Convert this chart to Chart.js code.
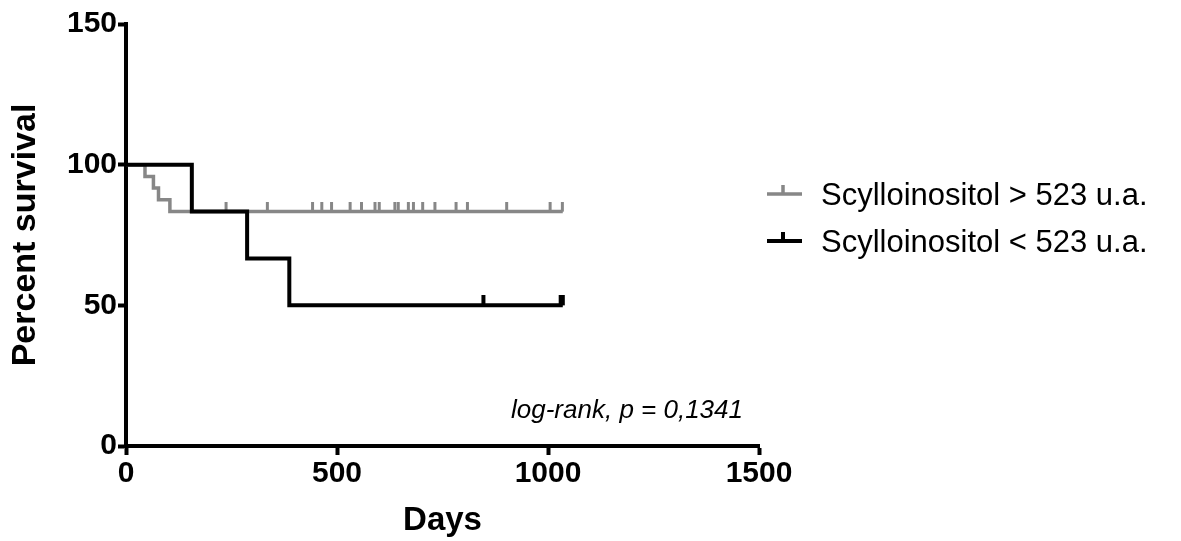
<!DOCTYPE html>
<html>
<head>
<meta charset="utf-8">
<script src="https://cdn.jsdelivr.net/npm/chart.js@4"></script>
<style>
  html, body { margin: 0; padding: 0; background: #fff; }
  #wrap { width: 1181px; height: 541px; }
</style>
</head>
<body>
<div id="wrap"><canvas id="survChart"></canvas></div>
<script>
// Kaplan-Meier data
const highDays = [0, 45, 65, 77, 104, 1035];
const highSurvival = [100, 95.83, 91.67, 87.5, 83.33, 83.33];
const highCensored = [237, 335, 442, 464, 487, 531, 558, 590, 600, 637, 645, 669, 681, 703, 732, 782, 809, 902, 1005, 1034];
const lowDays = [0, 156, 287, 387, 1035];
const lowSurvival = [100, 83.33, 66.67, 50, 50];
const lowCensored = [847, 1030, 1035];
const highLabel = 'Scylloinositol > 523 u.a.';
const lowLabel = 'Scylloinositol < 523 u.a.';
const xTicks = [0, 500, 1000, 1500];
const yTicks = [0, 50, 100, 150];
const pValueText = 'log-rank, p = 0,1341';

const GRAY = '#878787';
const BLACK = '#000000';
const FONT = "'Liberation Sans', Arial, sans-serif";

Chart.defaults.font.family = FONT;
Chart.defaults.color = '#000';

// level of the curve at day t (last step at or before t)
function levelAt(days, surv, t) {
    let v = surv[0];
    for (let i = 0; i < days.length; i++) {
        if (days[i] <= t) v = surv[i];
    }
    return v;
}

// small vertical tick, drawn only above the point
function tickMark(color, w) {
    const c = document.createElement('canvas');
    c.width = w + 2;
    c.height = 20;
    const g = c.getContext('2d');
    g.fillStyle = color;
    g.fillRect(1, 0, w, 10);
    return c;
}

const legendPlugin = {
    id: 'kmLegend',
    afterDraw(chart) {
        const ctx = chart.ctx;
        const area = chart.chartArea;
        const rows = [
            { label: highLabel, color: GRAY, w: 3.5, base: 205 },
            { label: lowLabel, color: BLACK, w: 4, base: 252 }
        ];
        ctx.save();
        rows.forEach(r => {
            const ly = r.base - 11;
            ctx.strokeStyle = r.color;
            ctx.lineWidth = r.w;
            ctx.beginPath();
            ctx.moveTo(area.right + 8, ly);
            ctx.lineTo(area.right + 43, ly);
            ctx.moveTo(area.right + 24, ly);
            ctx.lineTo(area.right + 24, ly - 9);
            ctx.stroke();
            ctx.fillStyle = '#000';
            ctx.font = '31px ' + FONT;
            ctx.textAlign = 'left';
            ctx.textBaseline = 'alphabetic';
            ctx.fillText(r.label, area.right + 62, r.base);
        });
        ctx.font = 'italic 26px ' + FONT;
        ctx.textAlign = 'right';
        ctx.fillText(pValueText, area.right - 16, 418);
        ctx.restore();
    }
};

const ctx = document.getElementById('survChart').getContext('2d');
const chart = new Chart(ctx, {
    type: 'line',
    data: {
        datasets: [
            {
                label: lowLabel,
                data: lowDays.map((d, i) => ({ x: d, y: lowSurvival[i] })),
                borderColor: BLACK,
                borderWidth: 4,
                stepped: 'before',
                pointRadius: 0,
                fill: false
            },
            {
                label: lowLabel + ' censored',
                type: 'scatter',
                data: lowCensored.map(d => ({ x: d, y: levelAt(lowDays, lowSurvival, d) })),
                pointStyle: tickMark(BLACK, 4),
                pointRadius: 5,
                showLine: false
            },
            {
                label: highLabel,
                data: highDays.map((d, i) => ({ x: d, y: highSurvival[i] })),
                borderColor: GRAY,
                borderWidth: 3.5,
                stepped: 'before',
                pointRadius: 0,
                fill: false
            },
            {
                label: highLabel + ' censored',
                type: 'scatter',
                data: highCensored.map(d => ({ x: d, y: levelAt(highDays, highSurvival, d) })),
                pointStyle: tickMark(GRAY, 3),
                pointRadius: 5,
                showLine: false
            }
        ]
    },
    options: {
        responsive: true,
        maintainAspectRatio: false,
        animation: false,
        layout: {
            padding: { left: 0, right: 422, top: 24, bottom: 0 }
        },
        plugins: {
            legend: { display: false },
            tooltip: { enabled: false }
        },
        scales: {
            x: {
                type: 'linear',
                min: xTicks[0],
                max: xTicks[xTicks.length - 1],
                afterBuildTicks: s => { s.ticks = xTicks.map(v => ({ value: v })); },
                afterFit: s => { s.height = 95; },
                border: { color: BLACK, width: 4 },
                grid: { drawOnChartArea: false, color: BLACK, tickLength: 9, tickWidth: 4 },
                ticks: { font: { size: 30, weight: 'bold' }, color: BLACK, padding: 1, callback: v => String(v) },
                title: {
                    display: true,
                    text: 'Days',
                    font: { size: 33, weight: 'bold' },
                    color: BLACK,
                    padding: { top: 0, bottom: 0 }
                }
            },
            y: {
                min: yTicks[0],
                max: yTicks[yTicks.length - 1],
                afterBuildTicks: s => { s.ticks = yTicks.map(v => ({ value: v })); },
                afterFit: s => { s.width = 126; },
                border: { color: BLACK, width: 4 },
                grid: { drawOnChartArea: false, color: BLACK, tickLength: 8, tickWidth: 4 },
                ticks: { font: { size: 30, weight: 'bold' }, color: BLACK, padding: 1, callback: v => String(v) },
                title: {
                    display: true,
                    text: 'Percent survival',
                    font: { size: 34, weight: 'bold' },
                    color: BLACK,
                    padding: { top: 5, bottom: 0 }
                }
            }
        }
    },
    plugins: [legendPlugin]
});
</script>
</body>
</html>
